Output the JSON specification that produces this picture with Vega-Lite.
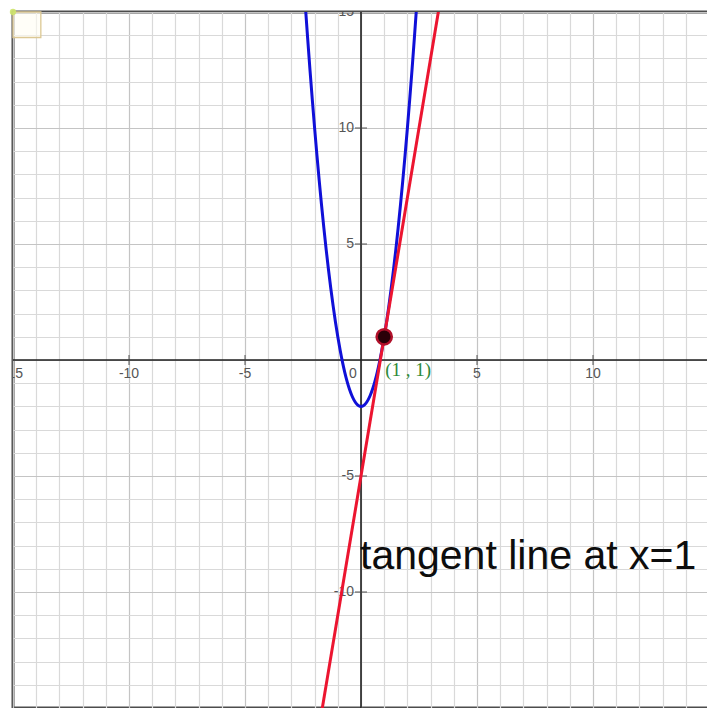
{
  "$schema": "https://vega.github.io/schema/vega-lite/v6.json",
  "width": 696,
  "height": 696,
  "autosize": {"type": "none"},
  "padding": {"left": 13, "top": 12, "right": 0, "bottom": 0},
  "background": "white",
  "config": {
    "view": {"stroke": "#4d4d4d", "strokeWidth": 3},
    "axis": {
      "grid": true,
      "tickCount": 30,
      "gridColor": {"condition": {"test": "datum.value % 5 === 0", "value": "#c4c4c4"}, "value": "#d9d9d9"},
      "gridWidth": 1.2,
      "labels": false,
      "ticks": false,
      "domain": false
    },
    "text": {"font": "Liberation Sans"}
  },
  "datasets": {
    "parabola": [
      {"x": -2.5, "y": 16.75}, {"x": -2.4, "y": 15.28}, {"x": -2.3, "y": 13.87}, {"x": -2.2, "y": 12.52},
      {"x": -2.1, "y": 11.23}, {"x": -2.0, "y": 10.0}, {"x": -1.9, "y": 8.83}, {"x": -1.8, "y": 7.72},
      {"x": -1.7, "y": 6.67}, {"x": -1.6, "y": 5.68}, {"x": -1.5, "y": 4.75}, {"x": -1.4, "y": 3.88},
      {"x": -1.3, "y": 3.07}, {"x": -1.2, "y": 2.32}, {"x": -1.1, "y": 1.63}, {"x": -1.0, "y": 1.0},
      {"x": -0.9, "y": 0.43}, {"x": -0.8, "y": -0.08}, {"x": -0.7, "y": -0.53}, {"x": -0.6, "y": -0.92},
      {"x": -0.5, "y": -1.25}, {"x": -0.4, "y": -1.52}, {"x": -0.3, "y": -1.73}, {"x": -0.2, "y": -1.88},
      {"x": -0.1, "y": -1.97}, {"x": 0.0, "y": -2.0}, {"x": 0.1, "y": -1.97}, {"x": 0.2, "y": -1.88},
      {"x": 0.3, "y": -1.73}, {"x": 0.4, "y": -1.52}, {"x": 0.5, "y": -1.25}, {"x": 0.6, "y": -0.92},
      {"x": 0.7, "y": -0.53}, {"x": 0.8, "y": -0.08}, {"x": 0.9, "y": 0.43}, {"x": 1.0, "y": 1.0},
      {"x": 1.1, "y": 1.63}, {"x": 1.2, "y": 2.32}, {"x": 1.3, "y": 3.07}, {"x": 1.4, "y": 3.88},
      {"x": 1.5, "y": 4.75}, {"x": 1.6, "y": 5.68}, {"x": 1.7, "y": 6.67}, {"x": 1.8, "y": 7.72},
      {"x": 1.9, "y": 8.83}, {"x": 2.0, "y": 10.0}, {"x": 2.1, "y": 11.23}, {"x": 2.2, "y": 12.52},
      {"x": 2.3, "y": 13.87}, {"x": 2.4, "y": 15.28}, {"x": 2.5, "y": 16.75}
    ],
    "tangent": [{"x": -1.8, "y": -15.8}, {"x": 3.5, "y": 16.0}],
    "xlabels": [
      {"x": -15, "label": "-15"}, {"x": -10, "label": "-10"}, {"x": -5, "label": "-5"},
      {"x": 5, "label": "5"}, {"x": 10, "label": "10"}
    ],
    "ylabels": [
      {"y": 15, "label": "15"}, {"y": 10, "label": "10"}, {"y": 5, "label": "5"},
      {"y": -5, "label": "-5"}, {"y": -10, "label": "-10"}
    ]
  },
  "layer": [
    {
      "data": {"values": [{"x": 0}]},
      "mark": {"type": "rule", "color": "#1e1e1e", "strokeWidth": 1.6},
      "encoding": {
        "x": {"field": "x", "type": "quantitative", "title": null, "scale": {"domain": [-15, 15], "nice": false, "zero": false}}
      }
    },
    {
      "data": {"values": [{"y": 0}]},
      "mark": {"type": "rule", "color": "#1e1e1e", "strokeWidth": 1.6},
      "encoding": {
        "y": {"field": "y", "type": "quantitative", "title": null, "scale": {"domain": [-15, 15], "nice": false, "zero": false}}
      }
    },
    {
      "data": {"name": "xlabels"},
      "transform": [{"filter": "datum.x !== -15"}],
      "mark": {"type": "tick", "orient": "vertical", "size": 10, "thickness": 1.3, "color": "#444"},
      "encoding": {
        "x": {"field": "x", "type": "quantitative", "title": null},
        "y": {"datum": 0}
      }
    },
    {
      "data": {"name": "ylabels"},
      "transform": [{"filter": "datum.y !== 15"}],
      "mark": {"type": "tick", "orient": "horizontal", "size": 12, "thickness": 1.3, "color": "#444"},
      "encoding": {
        "y": {"field": "y", "type": "quantitative", "title": null},
        "x": {"datum": 0}
      }
    },
    {
      "data": {"name": "xlabels"},
      "mark": {"type": "text", "fontSize": 14, "color": "#555555", "align": "center", "baseline": "middle", "dy": 14, "clip": true},
      "encoding": {
        "x": {"field": "x", "type": "quantitative", "title": null},
        "y": {"datum": 0},
        "text": {"field": "label"}
      }
    },
    {
      "data": {"values": [{"label": "0"}]},
      "mark": {"type": "text", "fontSize": 14, "color": "#555555", "align": "center", "baseline": "middle", "dx": -8, "dy": 14},
      "encoding": {
        "x": {"datum": 0},
        "y": {"datum": 0},
        "text": {"field": "label"}
      }
    },
    {
      "data": {"name": "ylabels"},
      "mark": {"type": "text", "fontSize": 14, "color": "#555555", "align": "right", "baseline": "middle", "dx": -7, "clip": true},
      "encoding": {
        "y": {"field": "y", "type": "quantitative", "title": null},
        "x": {"datum": 0},
        "text": {"field": "label"}
      }
    },
    {
      "data": {"name": "parabola"},
      "mark": {"type": "line", "color": "#1010d8", "strokeWidth": 3, "interpolate": "monotone", "clip": true},
      "encoding": {
        "x": {"field": "x", "type": "quantitative", "title": null},
        "y": {"field": "y", "type": "quantitative", "title": null}
      }
    },
    {
      "data": {"name": "tangent"},
      "mark": {"type": "line", "color": "#ec1530", "strokeWidth": 3, "clip": true},
      "encoding": {
        "x": {"field": "x", "type": "quantitative", "title": null},
        "y": {"field": "y", "type": "quantitative", "title": null}
      }
    },
    {
      "data": {"values": [{"x": 1, "y": 1, "label": "(1 , 1)"}]},
      "layer": [
        {
          "mark": {"type": "point", "filled": true, "shape": "circle", "size": 230, "fill": "#2a0008", "stroke": "#b0102a", "strokeWidth": 2.5, "opacity": 1},
          "encoding": {
            "x": {"field": "x", "type": "quantitative", "title": null},
            "y": {"field": "y", "type": "quantitative", "title": null}
          }
        },
        {
          "mark": {"type": "text", "font": "Liberation Serif", "fontSize": 19, "color": "#2e8a3a", "align": "left", "baseline": "middle", "dx": 1, "dy": 33},
          "encoding": {
            "x": {"field": "x", "type": "quantitative", "title": null},
            "y": {"field": "y", "type": "quantitative", "title": null},
            "text": {"field": "label"}
          }
        }
      ]
    },
    {
      "data": {"values": [{"x": 0, "y": -9, "label": "tangent line at x=1"}]},
      "mark": {"type": "text", "fontSize": 41, "color": "#0d0d0d", "align": "left", "baseline": "alphabetic", "dx": -1},
      "encoding": {
        "x": {"field": "x", "type": "quantitative", "title": null},
        "y": {"field": "y", "type": "quantitative", "title": null},
        "text": {"field": "label"}
      }
    },
    {
      "data": {"values": [{"x": -15, "x2": -13.8, "y": 15, "y2": 13.9}]},
      "mark": {"type": "rect", "fill": "#fffdf3", "fillOpacity": 0.6, "stroke": "#dcc894", "strokeWidth": 1.3},
      "encoding": {
        "x": {"field": "x", "type": "quantitative", "title": null},
        "x2": {"field": "x2"},
        "y": {"field": "y", "type": "quantitative", "title": null},
        "y2": {"field": "y2"}
      }
    },
    {
      "data": {"values": [{"x": -15, "y": 15}]},
      "mark": {"type": "point", "filled": true, "shape": "circle", "size": 40, "color": "#cde36a", "opacity": 0.9},
      "encoding": {
        "x": {"field": "x", "type": "quantitative", "title": null},
        "y": {"field": "y", "type": "quantitative", "title": null}
      }
    }
  ]
}
